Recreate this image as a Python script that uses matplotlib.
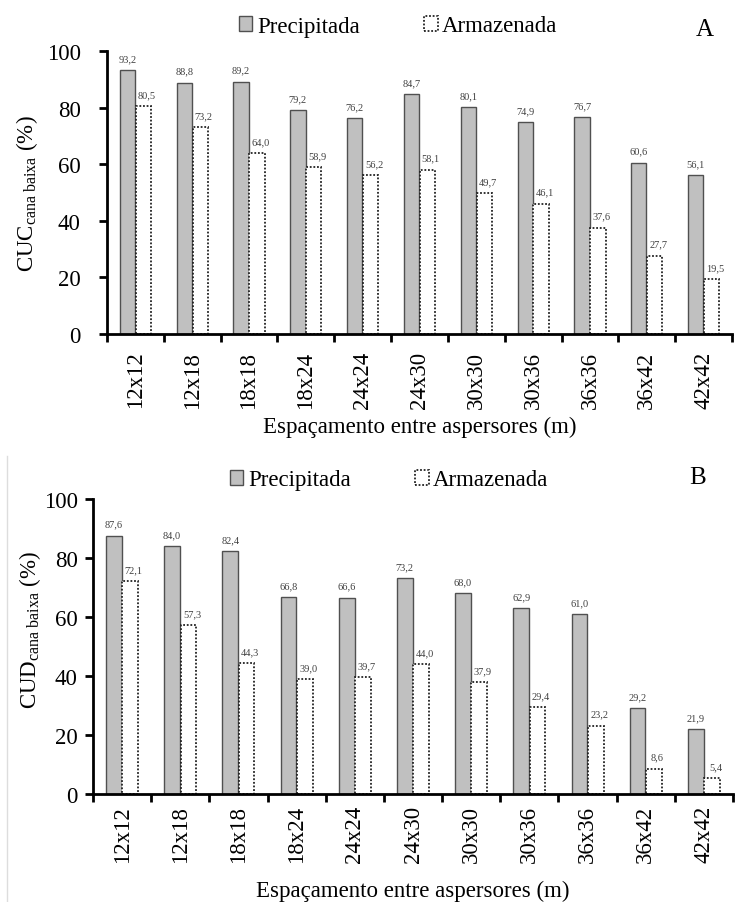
import numpy as np
import matplotlib
matplotlib.use("Agg")
import matplotlib.pyplot as plt
from matplotlib.lines import Line2D

plt.rcParams['font.family'] = ['Liberation Serif', 'DejaVu Serif']
plt.rcParams['mathtext.fontset'] = 'custom'
plt.rcParams['mathtext.rm'] = 'Liberation Serif'
plt.rcParams['mathtext.it'] = 'Liberation Serif:italic'

categories = ["12x12", "12x18", "18x18", "18x24", "24x24", "24x30",
              "30x30", "30x36", "36x36", "36x42", "42x42"]
cuc_precipitada = [93.2, 88.8, 89.2, 79.2, 76.2, 84.7, 80.1, 74.9, 76.7, 60.6, 56.1]
cuc_armazenada = [80.5, 73.2, 64.0, 58.9, 56.2, 58.1, 49.7, 46.1, 37.6, 27.7, 19.5]
cud_precipitada = [87.6, 84.0, 82.4, 66.8, 66.6, 73.2, 68.0, 62.9, 61.0, 29.2, 21.9]
cud_armazenada = [72.1, 57.3, 44.3, 39.0, 39.7, 44.0, 37.9, 29.4, 23.2, 8.6, 5.4]
yticks = [0, 20, 40, 60, 80, 100]

W, H = 747, 903
fig = plt.figure(figsize=(W / 100, H / 100), dpi=100)


def px_axes(x0, x1, y_top, y_bot):
    return fig.add_axes([x0 / W, 1 - y_bot / H, (x1 - x0) / W, (y_bot - y_top) / H])


def fmt(v):
    return f"{v:.1f}".replace(".", ",")


def draw(ax, prec, arm, ylabel, ypad, xpad):
    x = np.arange(len(categories))
    w = 0.27
    b1 = ax.bar(x - w / 2 - 0.005, prec, width=w, color="#c0c0c0",
                edgecolor="#505050", linewidth=1.0, label="Precipitada", zorder=2)
    b2 = ax.bar(x + w / 2 + 0.005, arm, width=w, color="white",
                edgecolor="#222222", linewidth=1.3, linestyle=(0, (1, 1)),
                label="Armazenada", zorder=2)
    for rect, v in zip(b1, prec):
        ax.annotate(fmt(v), (rect.get_x() + rect.get_width() / 2, v),
                    xytext=(0, 5), textcoords="offset points", ha="center",
                    va="bottom", fontsize=7.5, color="#404040")
    for rect, v in zip(b2, arm):
        ax.annotate(fmt(v), (rect.get_x() + rect.get_width() / 2 + 0.06, v),
                    xytext=(0, 5), textcoords="offset points", ha="center",
                    va="bottom", fontsize=7.5, color="#404040")
    ax.set_xlim(-0.5, len(categories) - 0.5)
    ax.set_ylim(0, 100)
    ax.set_yticks(yticks)
    ax.set_yticklabels([str(t) for t in yticks], fontsize=16.5)
    ax.set_xticks(np.arange(len(categories) + 1) - 0.5)
    ax.set_xticklabels([])
    ax.set_xticks(x, minor=True)
    ax.set_xticklabels(categories, minor=True, rotation=90, fontsize=16.5)
    ax.tick_params(axis="x", which="major", direction="out", length=6, width=2)
    ax.tick_params(axis="x", which="minor", length=0, pad=xpad)
    ax.tick_params(axis="y", direction="out", length=6, width=2, pad=ypad)
    for s in ["top", "right"]:
        ax.spines[s].set_visible(False)
    for s in ["left", "bottom"]:
        ax.spines[s].set_linewidth(2)
        ax.spines[s].set_color("black")
    ax.set_ylabel(ylabel, fontsize=16.5)
    ax.set_xlabel("Espaçamento entre aspersores (m)", fontsize=16.5)
    return b1, b2


ax1 = px_axes(107, 732, 52, 335)
h1 = draw(ax1, cuc_precipitada, cuc_armazenada,
          r"CUC$_{\mathrm{cana\ baixa}}$ (%)", ypad=13, xpad=12)
ax1.yaxis.set_label_coords(-0.107, 0.5)
ax1.xaxis.set_label_coords(0.5, -0.29)

ax2 = px_axes(93, 733, 500, 795)
h2 = draw(ax2, cud_precipitada, cud_armazenada,
          r"CUD$_{\mathrm{cana\ baixa}}$ (%)", ypad=5, xpad=8)
ax2.yaxis.set_label_coords(-0.078, 0.56)
ax2.xaxis.set_label_coords(0.5, -0.29)

leg_kw = dict(ncol=2, frameon=False, fontsize=16.5, handlelength=0.6,
              handleheight=0.6, handletextpad=0.2, columnspacing=2.8,
              borderpad=0, loc="center")
fig.legend(h1, ["Precipitada", "Armazenada"], bbox_to_anchor=(398 / W, 1 - 27 / H), **leg_kw)
fig.legend(h2, ["Precipitada", "Armazenada"], bbox_to_anchor=(389 / W, 1 - 481 / H), **leg_kw)

fig.text(705 / W, 1 - 30 / H, "A", fontsize=18, ha="center", va="center")
fig.text(698 / W, 1 - 478 / H, "B", fontsize=18, ha="center", va="center")

fig.add_artist(Line2D([7 / W, 7 / W], [0, 1 - 457 / H], transform=fig.transFigure,
                      color="#dddddd", linewidth=1))

fig.savefig("out.png", dpi=100)
